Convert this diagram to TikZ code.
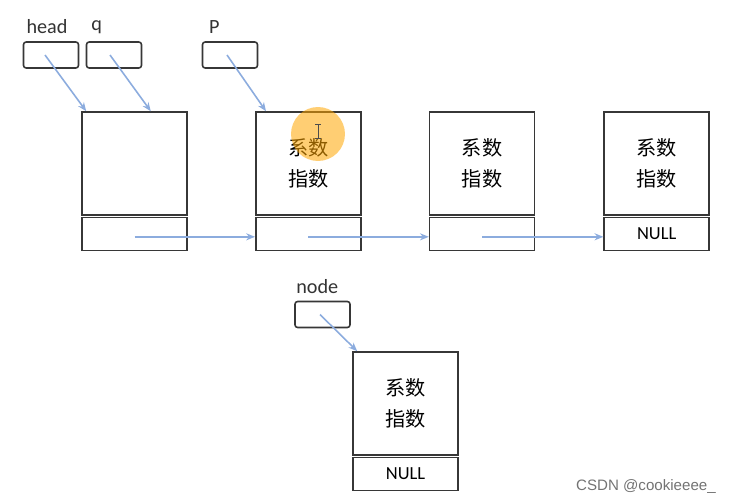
\documentclass[tikz,border=0pt]{standalone}
\usepackage{fontspec}
\setmainfont{Carlito}
\newfontfamily\cjk{Noto Sans CJK SC}
\newfontfamily\wmfont{Liberation Sans}
\usepackage{tikz}
\usetikzlibrary{positioning,arrows.meta,calc}
\definecolor{ptrblue}{RGB}{140,172,222}
\definecolor{boxline}{RGB}{55,55,55}

\begin{document}
\begin{tikzpicture}[
  x=0.02cm, y=-0.02cm,
  font=\fontsize{11.5}{14}\selectfont,
  >={Stealth[length=5pt,width=4pt]},
  databox/.style={rectangle, draw=boxline, line width=0.9pt, minimum width=2.1cm, minimum height=2.06cm, inner sep=0pt, align=center, font=\cjk\fontsize{11.5}{14}\selectfont},
  nextbox/.style={rectangle, draw=boxline, line width=0.9pt, minimum width=2.1cm, minimum height=0.66cm, inner sep=0pt, font=\fontsize{10.5}{12}\selectfont},
  ptrbox/.style={rectangle, draw=boxline, line width=0.9pt, rounded corners=1.5pt, minimum width=1.1cm, minimum height=0.52cm, inner sep=0pt},
  ptrlabel/.style={anchor=south west, inner sep=1pt, text=black!80},
  linkmap/.style={->, draw=ptrblue, line width=0.9pt}
]
  \useasboundingbox (0,0) rectangle (738,504);

  % list elements
  \node[databox] (n1top) at (134.5,163.5) {};
  \node[nextbox, below=0.015cm of n1top] (n1next) {};
  \node[databox, right=1.345cm of n1top] (n2top) {系数\\[4pt]指数};
  \node[nextbox, below=0.015cm of n2top] (n2next) {};
  \node[databox, right=1.345cm of n2top] (n3top) {系数\\[4pt]指数};
  \node[nextbox, below=0.015cm of n3top] (n3next) {};
  \node[databox, right=1.36cm of n3top] (n4top) {系数\\[4pt]指数};
  \node[nextbox, below=0.015cm of n4top] (n4next) {NULL};

  % new element
  \node[databox] (n5top) at (405.5,403.5) {系数\\[4pt]指数};
  \node[nextbox, below=0.015cm of n5top] (n5next) {NULL};

  % pointers
  \node[ptrbox] (head) at (51,55) {};
  \node[ptrbox] (q) at (114,55) {};
  \node[ptrbox] (p) at (230,55) {};
  \node[ptrbox] (newnode) at (322.5,314.5) {};
  \node[ptrlabel] (headlbl) at ([xshift=1pt,yshift=3pt]head.north west) {head};
  \node[ptrlabel] (qlbl) at ([xshift=2pt,yshift=3pt]q.north west) {q};
  \node[ptrlabel] (plbl) at ([xshift=3pt,yshift=3pt]p.north west) {P};
  \node[ptrlabel] (nodelbl) at ([xshift=0pt,yshift=3pt]newnode.north west) {node};

  \draw[linkmap] ([xshift=-0.12cm]head.center) -- ([xshift=0.1cm]n1top.north west);
  \draw[linkmap] ([xshift=-0.08cm]q.center) -- ([xshift=-0.74cm]n1top.north east);
  \draw[linkmap] ([xshift=-0.06cm]p.center) -- ([xshift=0.22cm]n2top.north west);
  \draw[linkmap] ([xshift=-0.05cm]newnode.center) -- ([xshift=0.1cm]n5top.north west);

  \draw[linkmap] ([yshift=-0.06cm]n1next.center) -- ([yshift=-0.06cm]n2next.west);
  \draw[linkmap] ([yshift=-0.06cm]n2next.center) -- ([yshift=-0.06cm]n3next.west);
  \draw[linkmap] ([yshift=-0.06cm]n3next.center) -- ([yshift=-0.06cm]n4next.west);

  % cursor highlight
  \fill[orange!70!yellow, opacity=0.55] (318,134) circle (0.54cm);
  \draw[black!70, line width=0.5pt] (318,124) -- (318,138) (315,124) -- (321,124) (315,138) -- (321,138);

  \node[font=\wmfont\fontsize{8.6}{10}\selectfont, text=black!55, anchor=east] (mark) at (722,487) {CSDN @cookieeee\_};
\end{tikzpicture}
\end{document}
